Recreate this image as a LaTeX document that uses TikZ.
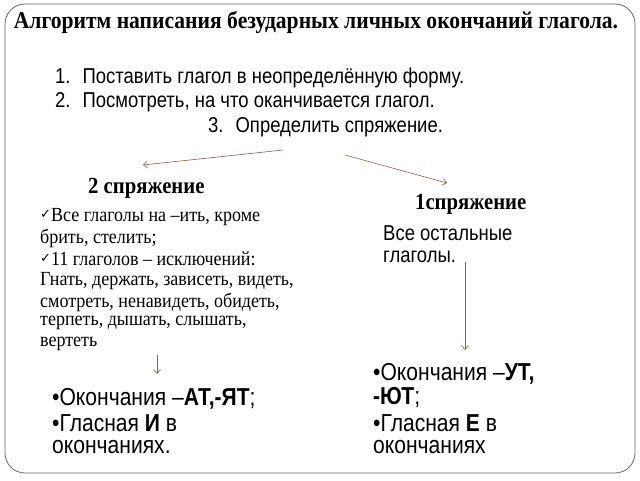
\documentclass[tikz,border=0pt]{standalone}
\usepackage{fontspec}
\setmainfont{Liberation Serif}
\newfontfamily\sansn[FakeStretch=0.86]{Liberation Sans}
\newfontfamily\serifn[FakeStretch=0.9]{Liberation Serif}
\newfontfamily\chk{DejaVu Sans}
\usetikzlibrary{arrows.meta}
\definecolor{arr}{RGB}{150,90,70}
\tikzset{
  txt/.style={anchor=west,inner sep=0pt,font=\sansn\fontsize{21.5}{21.5}\selectfont},
  big/.style={anchor=west,inner sep=0pt,font=\sansn\fontsize{24.5}{24.5}\selectfont},
  lst/.style={anchor=west,inner sep=0pt,font=\serifn\fontsize{20}{20}\selectfont},
  hd/.style={anchor=west,inner sep=0pt,font=\serifn\bfseries\fontsize{23}{23}\selectfont},
  conn/.style={draw=arr,line width=0.6pt,-{Straight Barb[length=4pt,width=7pt]}}
}
\begin{document}
\begin{tikzpicture}[x=1pt,y=-1pt]
\useasboundingbox (0,0) rectangle (640,480);
\draw[gray!80!black,line width=0.8pt,rounded corners=20] (5,4) rectangle (635,473);
\node[anchor=center,inner sep=0pt,font=\serifn\bfseries\fontsize{24}{24}\selectfont] (title) at (316,22) {Алгоритм написания безударных личных окончаний глагола.};
\node[txt] (s1) at (55,78) {1.\hspace{12pt}Поставить глагол в неопределённую форму.};
\node[txt] (s2) at (55,102) {2.\hspace{12pt}Посмотреть, на что оканчивается глагол.};
\node[txt] (s3) at (208,127) {3.\hspace{12pt}Определить спряжение.};
\coordinate (a1s) at (283,150); \coordinate (a1e) at (143,165);
\coordinate (a2s) at (345,155); \coordinate (a2e) at (447,183);
\draw[conn] (a1s) -- (a1e);
\draw[conn] (a2s) -- (a2e);
\node[hd] (h2) at (88,188) {2 спряжение};
\node[hd] (h1) at (415,204) {1спряжение};
\node[lst] (l1) at (40,217) {{\chk\fontsize{13}{13}\selectfont\raisebox{3pt}{✓}}Все глаголы на –ить, кроме};
\node[lst] (l2) at (40,238) {брить, стелить;};
\node[lst] (l3) at (40,259) {{\chk\fontsize{13}{13}\selectfont\raisebox{3pt}{✓}}11 глаголов – исключений:};
\node[lst] (l4) at (40,281) {Гнать, держать, зависеть, видеть,};
\node[lst] (l5) at (40,302) {смотреть, ненавидеть, обидеть,};
\node[lst] (l6) at (40,323) {терпеть, дышать, слышать,};
\node[lst] (l7) at (40,344) {вертеть};
\node[txt] (r1) at (383,233) {Все остальные};
\node[txt] (r2) at (383,257) {глаголы.};
\coordinate (a3s) at (465,262); \coordinate (a3e) at (465,350);
\coordinate (a4s) at (157,355); \coordinate (a4e) at (157,374);
\draw[conn] (a3s) -- (a3e);
\draw[conn] (a4s) -- (a4e);
\node[big] (b1) at (52,399) {•Окончания –\textbf{АТ,-ЯТ};};
\node[big] (b2) at (52,423) {•Гласная \textbf{И} в};
\node[big] (b3) at (52,447) {окончаниях.};
\node[big] (c1) at (373,374) {•Окончания –\textbf{УТ,}};
\node[big] (c2) at (373,398) {\textbf{-ЮТ};};
\node[big] (c3) at (373,423) {•Гласная \textbf{Е} в};
\node[big] (c4) at (373,447) {окончаниях};
\end{tikzpicture}
\end{document}
